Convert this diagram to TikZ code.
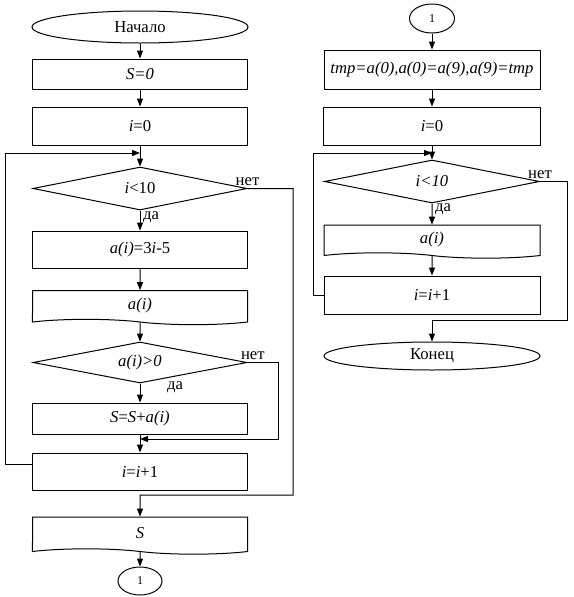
\documentclass[tikz,border=0pt]{standalone}
\usepackage{fontspec}
\setmainfont{Liberation Serif}
\usetikzlibrary{shapes.geometric,shapes.symbols,arrows.meta}

\tikzset{
  block/.style={rectangle, draw, line width=0.75pt, minimum width=161.25pt},
  term/.style={ellipse, draw, line width=0.75pt, inner sep=0pt},
  cond/.style={diamond, draw, line width=0.75pt, aspect=5, inner sep=0pt},
  io/.style={tape, draw, line width=0.75pt, tape bend top=none, tape bend bottom=out and in, tape bend height=4pt, minimum width=161.25pt},
  conn/.style={ellipse, draw, line width=0.75pt, inner sep=0pt, font=\fontsize{9}{10}\selectfont},
  lbl/.style={inner sep=2pt},
  arr/.style={draw, line width=0.75pt, -{Triangle[length=6pt,width=4.5pt]}}
}

\begin{document}
\begin{tikzpicture}[x=0.75pt, y=-0.75pt, font=\fontsize{12.5}{14}\selectfont]
\useasboundingbox (0,0) rectangle (574,597);
% left column
\node[term, minimum width=162pt, minimum height=24pt] (start) at (140,27) {Начало};
\node[block, minimum height=22.5pt] (s0) at (140,74) {\textit{S=0}};
\node[block, minimum height=28.5pt] (i0) at (140,126) {\textit{i}=0};
\node[cond, minimum width=160.5pt, minimum height=32.25pt] (c1) at (140,188.5) {\textit{i}<10};
\node[block, minimum height=27.75pt] (calc) at (140,249.5) {\textit{a(i)}=3\textit{i}-5};
\node[io, minimum height=25.5pt] (outa) at (140,305) {\textit{a(i)}};
\node[cond, minimum width=160.5pt, minimum height=30.75pt] (c2) at (140,362.5) {\textit{a(i)>0}};
\node[block, minimum height=23.25pt] (sum) at (140,418.5) {\textit{S}=\textit{S}+\textit{a(i)}};
\node[block, minimum height=27.75pt] (inc1) at (140,471.5) {\textit{i}=\textit{i}+1};
\node[io, minimum height=27.75pt] (outs) at (140,533) {\textit{S}};
\node[conn, minimum width=33pt, minimum height=21pt] (con1) at (140,581) {1};
\coordinate (j1) at (140,153);
\coordinate (back1) at (5,0);
\coordinate (r1) at (293,0);
\coordinate (m1) at (140,495);
\coordinate (r2) at (278,0);
\coordinate (m2) at (140,439);
\draw[arr] (start) -- (s0);
\draw[arr] (s0) -- (i0);
\draw[arr] (i0) -- (c1);
\draw[arr] (c1) -- node[lbl, anchor=west, pos=0.35] (yes1) {да} (calc);
\draw[arr] (calc) -- (outa);
\draw[arr] (outa) -- (c2);
\draw[arr] (c2) -- node[lbl, anchor=west, pos=0.2, xshift=18pt] (yes2) {да} (sum);
\draw[arr] (sum) -- (inc1);
\draw[arr] (outs) -- (con1);
\draw[arr] ([yshift=5pt]inc1.west) -| (back1 |- j1) -- (j1);
\draw[arr] (c1.east) node[lbl, above] (no1) {нет} -- (r1 |- c1.east) -- (r1 |- m1) -- (m1) -- (outs);
\draw[arr] (c2.east) node[lbl, above, xshift=4pt] (no2) {нет} -- (r2 |- c2.east) -- (r2 |- m2) -- (m2);
% right column
\node[conn, minimum width=33.75pt, minimum height=21.75pt] (con2) at (432,18.5) {1};
\node[block, minimum width=162pt, minimum height=29.25pt] (swap) at (432,69.5) {\textit{tmp=a(0),a(0)=a(9),a(9)=tmp}};
\node[block, minimum width=162.75pt, minimum height=28.5pt] (i0b) at (432,126) {\textit{i}=0};
\node[cond, minimum width=161.25pt, minimum height=32.25pt] (c3) at (432,181.5) {\textit{i<10}};
\node[io, minimum width=162pt, minimum height=24.75pt] (outb) at (432,239) {\textit{a(i)}};
\node[block, minimum width=162pt, minimum height=28.5pt] (inc2) at (432,295) {\textit{i}=\textit{i}+1};
\node[term, minimum width=162pt, minimum height=21pt] (end) at (432,356) {Конец};
\coordinate (j2) at (432,153);
\coordinate (back2) at (313,0);
\coordinate (r3) at (567,0);
\coordinate (m3) at (432,320);
\draw[arr] (con2) -- (swap);
\draw[arr] (swap) -- (i0b);
\draw[arr] (i0b) -- (c3);
\draw[arr] (c3) -- node[lbl, anchor=west, pos=0.25] (yes3) {да} (outb);
\draw[arr] (outb) -- (inc2);
\draw[arr] (inc2.west) -| (back2 |- j2) -- (j2);
\draw[arr] (c3.east) node[lbl, above] (no3) {нет} -- (r3 |- c3.east) -- (r3 |- m3) -- (m3) -- (end);
\end{tikzpicture}
\end{document}
